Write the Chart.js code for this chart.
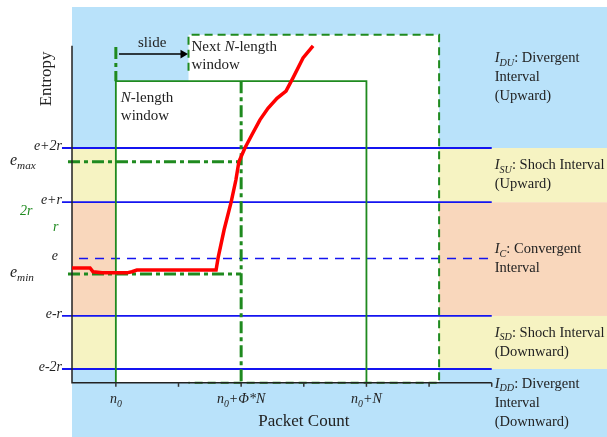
<!DOCTYPE html>
<html>
<head>
<meta charset="utf-8">
<script src="https://cdn.jsdelivr.net/npm/chart.js@4"></script>
<style>
html, body { margin: 0; padding: 0; background: #fff; }
</style>
</head>
<body>
<canvas id="chart" width="607" height="437"></canvas>
<script>
// packet count: n0 = 0, window length N = 100, phi*N = 50
const xTicks = [0, 25, 50, 75, 100, 125, 150];
const xTickLabels = { 0: [['n', 'i'], ['0', 's']], 50: [['n', 'i'], ['0', 's'], ['+Φ*N', 'i']], 100: [['n', 'i'], ['0', 's'], ['+N', 'i']] };
const winLength = 100;
const phiN = 50;
const nextStart = 29;
const winTop = 7.21;
const nextTop = 8.05;
const axisBase = 1.75;
const axisTop = 7.85;
const axisEnd = 150;

// entropy levels (e about 4, r about 1)
const levels = [2, 2.96, 4, 5.02, 6];
const levelLabels = ['e-2r', 'e-r', 'e', 'e+r', 'e+2r'];
const eMax = 5.75;
const eMin = 3.72;

// entropy curve
const curveX = [-17.5, -10.3, -9.1, -5.5, 4.4, 6.4, 8.4, 17.6, 40.0, 40.8, 43.2, 46.0, 47.9, 49.1, 51.5, 54.3, 57.5, 60.7, 64.3, 67.9, 70.7, 74.7, 78.7];
const curveY = [3.83, 3.83, 3.76, 3.74, 3.74, 3.76, 3.79, 3.79, 3.79, 4.01, 4.52, 5.02, 5.42, 5.75, 6.00, 6.24, 6.51, 6.72, 6.90, 7.03, 7.27, 7.63, 7.85];

// intervals, bottom to top
const bandEdges = [2, 2.96, 5.02, 6];
const bandColors = ['#b9e2fa', '#f6f3c2', '#f9d7bc', '#f6f3c2', '#b9e2fa'];
const intervalSubs = ['DD', 'SD', 'C', 'SU', 'DU'];
const intervalLines = [
    ['Divergent', 'Interval', '(Downward)'],
    ['Shoch Interval', '(Downward)'],
    ['Convergent', 'Interval'],
    ['Shoch Interval', '(Upward)'],
    ['Divergent', 'Interval', '(Upward)']
];

const green = '#1f8a1f';
const blue = '#1414f0';
const serif = '"Liberation Serif", "DejaVu Serif", serif';

function seg(x1, y1, x2, y2) {
    return [{ x: x1, y: y1 }, { x: x2, y: y2 }];
}

function drawRich(ctx, parts, x, y, align, size, color) {
    let total = 0;
    const items = parts.map(([t, s]) => {
        const sz = s === 's' ? size * 0.7 : size;
        const f = (s === 'n' ? '' : 'italic ') + sz + 'px ' + serif;
        ctx.font = f;
        const w = ctx.measureText(t).width;
        total += w;
        return { t, f, w, dy: s === 's' ? size * 0.3 : 0 };
    });
    let cx = align === 'right' ? x - total : align === 'center' ? x - total / 2 : x;
    ctx.fillStyle = color;
    ctx.textAlign = 'left';
    ctx.textBaseline = 'middle';
    items.forEach(p => {
        ctx.font = p.f;
        ctx.fillText(p.t, cx, y + p.dy);
        cx += p.w;
    });
}

const backdrop = {
    id: 'backdrop',
    beforeDatasetsDraw(chart) {
        const { ctx, chartArea: a, scales: { x, y } } = chart;
        ctx.save();
        const edges = [y.min, ...bandEdges, y.max];
        bandColors.forEach((c, i) => {
            const top = y.getPixelForValue(edges[i + 1]);
            const bot = y.getPixelForValue(edges[i]);
            ctx.fillStyle = c;
            ctx.fillRect(a.left, top, a.right - a.left, bot - top);
        });
        // white windows
        ctx.fillStyle = '#fff';
        [[0, winTop], [nextStart, nextTop]].forEach(([s, t]) => {
            const l = x.getPixelForValue(s), r = x.getPixelForValue(s + winLength);
            const tp = y.getPixelForValue(t), bt = y.getPixelForValue(axisBase);
            ctx.fillRect(l, tp, r - l, bt - tp);
        });
        ctx.restore();
    },
    afterDatasetsDraw(chart) {
        const { ctx, scales: { x, y } } = chart;
        ctx.save();
        const base = y.getPixelForValue(axisBase);
        // ticks
        ctx.strokeStyle = '#333';
        ctx.lineWidth = 1.5;
        xTicks.forEach(v => {
            const px = x.getPixelForValue(v);
            ctx.beginPath();
            ctx.moveTo(px, base);
            ctx.lineTo(px, base + 4);
            ctx.stroke();
            if (xTickLabels[v]) drawRich(ctx, xTickLabels[v], px, base + 17, 'center', 14, '#222');
        });
        ctx.font = '17px ' + serif;
        ctx.fillStyle = '#222';
        ctx.textAlign = 'center';
        ctx.textBaseline = 'middle';
        ctx.fillText('Packet Count', x.getPixelForValue(axisEnd / 2), base + 39);
        ctx.save();
        ctx.translate(47, y.getPixelForValue(7.25));
        ctx.rotate(-Math.PI / 2);
        ctx.fillText('Entropy', 0, 0);
        ctx.restore();

        // level labels
        levels.forEach((v, i) => {
            const px = levelLabels[i] === 'e' ? 58 : 62;
            drawRich(ctx, [[levelLabels[i], 'i']], px, y.getPixelForValue(v) - 2, 'right', 14, '#222');
        });
        drawRich(ctx, [['e', 'i'], ['max', 's']], 10, y.getPixelForValue(eMax) - 1, 'left', 16, '#222');
        drawRich(ctx, [['e', 'i'], ['min', 's']], 10, y.getPixelForValue(eMin) - 1, 'left', 16, '#222');
        drawRich(ctx, [['2r', 'i']], 20, y.getPixelForValue(4.86), 'left', 14, green);
        drawRich(ctx, [['r', 'i']], 53, y.getPixelForValue(4.57), 'left', 14, green);

        // interval labels
        const edges = [y.min, ...bandEdges, y.max];
        const lx = x.getPixelForValue(axisEnd) + 3;
        intervalLines.forEach((lines, i) => {
            const mid = (y.getPixelForValue(edges[i]) + y.getPixelForValue(edges[i + 1])) / 2;
            const step = 19;
            let ly = mid - (lines.length - 1) * step / 2;
            lines.forEach((t, j) => {
                const parts = j === 0 ? [['I', 'i'], [intervalSubs[i], 's'], [': ' + t, 'n']] : [[t, 'n']];
                drawRich(ctx, parts, lx, ly, 'left', 14.5, '#222');
                ly += step;
            });
        });

        // window captions
        const wy = y.getPixelForValue(winTop);
        drawRich(ctx, [['N', 'i'], ['-length', 'n']], x.getPixelForValue(0) + 5, wy + 17, 'left', 15, '#222');
        drawRich(ctx, [['window', 'n']], x.getPixelForValue(0) + 5, wy + 35, 'left', 15, '#222');
        const ny = y.getPixelForValue(nextTop);
        drawRich(ctx, [['Next ', 'n'], ['N', 'i'], ['-length', 'n']], x.getPixelForValue(nextStart) + 3, ny + 12, 'left', 15, '#222');
        drawRich(ctx, [['window', 'n']], x.getPixelForValue(nextStart) + 3, ny + 30, 'left', 15, '#222');
        drawRich(ctx, [['slide', 'n']], x.getPixelForValue(nextStart / 2), y.getPixelForValue(7.7) - 11, 'center', 15, '#222');
        ctx.restore();
    }
};

const line = (data, color, width, dash, order) => ({
    type: 'line', data, borderColor: color, borderWidth: width, borderDash: dash || [],
    pointRadius: 0, tension: 0, fill: false, clip: false, order
});

const datasets = [
    line(curveX.map((v, i) => ({ x: v, y: curveY[i] })), '#ff0000', 3.5, null, 0),
    line([{ x: -17.5, y: axisTop }, { x: -17.5, y: axisBase }, { x: axisEnd, y: axisBase }], '#222', 1.5, null, 1),
    line(seg(-19.1, eMax, phiN, eMax), green, 3, [12, 4, 4, 4], 2),
    line(seg(-19.1, eMin, phiN, eMin), green, 3, [12, 4, 4, 4], 2),
    line(seg(phiN, winTop, phiN, axisBase), green, 3, [12, 4, 4, 4], 2),
    line(seg(0, 7.83, 0, winTop), green, 3, [12, 4, 4, 4], 2),
    line([{ x: 0, y: axisBase }, { x: 0, y: winTop }, { x: winLength, y: winTop }, { x: winLength, y: axisBase }], green, 1.8, null, 3),
    line([{ x: nextStart, y: 7.4 }, { x: nextStart, y: nextTop }, { x: nextStart + winLength, y: nextTop },
          { x: nextStart + winLength, y: axisBase }, { x: nextStart, y: axisBase }], green, 2, [8, 5], 3),
    line(seg(-14.7, levels[2], axisEnd, levels[2]), blue, 1.5, [9, 7], 4),
    ...[0, 1, 3, 4].map(i => line(seg(-21.5, levels[i], axisEnd, levels[i]), blue, 1.8, null, 4)),
    {
        type: 'line', data: seg(1.26, 7.7, 26.8, 7.7), borderColor: '#000', borderWidth: 1.5,
        pointRadius: [0, 5], pointStyle: 'triangle', rotation: 90,
        pointBackgroundColor: '#000', pointBorderColor: '#000', pointBorderWidth: 0,
        clip: false, order: 1
    }
];

new Chart(document.getElementById('chart').getContext('2d'), {
    data: { datasets },
    options: {
        responsive: false,
        animation: false,
        layout: { autoPadding: false, padding: { left: 72, top: 7, right: 0, bottom: 0 } },
        scales: {
            x: { type: 'linear', min: -17.5, max: 196, display: false },
            y: { type: 'linear', min: 0.769, max: 8.552, display: false }
        },
        plugins: { legend: { display: false }, tooltip: { enabled: false } }
    },
    plugins: [backdrop]
});
</script>
</body>
</html>
